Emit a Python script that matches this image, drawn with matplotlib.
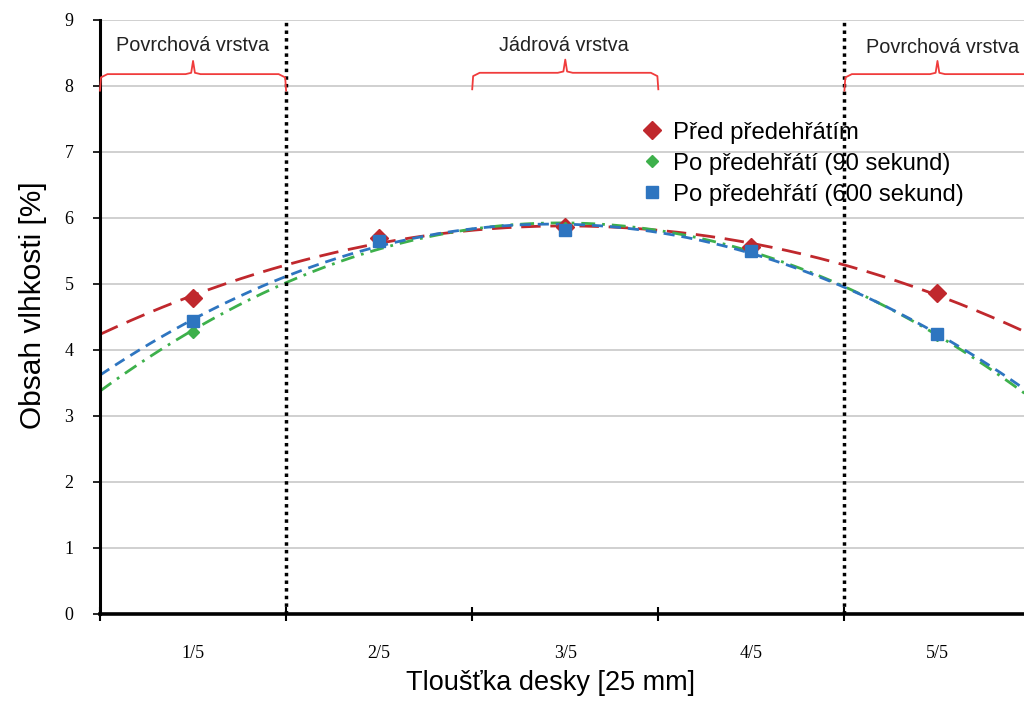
import numpy as np
import matplotlib
matplotlib.use("Agg")
import matplotlib.pyplot as plt

categories = ["1/5", "2/5", "3/5", "4/5", "5/5"]
pred = [4.79, 5.70, 5.86, 5.56, 4.86]
po90 = [4.27, 5.62, 5.85, 5.50, 4.23]
po600 = [4.44, 5.65, 5.82, 5.50, 4.24]
series_names = ["Před předehřátím", "Po předehřátí (90 sekund)", "Po předehřátí (600 sekund)"]
layer_labels = ["Povrchová vrstva", "Jádrová vrstva", "Povrchová vrstva"]

x = np.arange(1, len(categories) + 1)

fig = plt.figure(figsize=(10.24, 7.01), dpi=100)
ax = fig.add_axes([100/1024, 1 - 614/701, 1 - 100/1024 + 0.01, (614 - 20)/701])
xmin, xmax = 0.5, 5.52
ax.set_xlim(xmin, xmax)
ax.set_ylim(0, 9)

# grid
for yv in range(1, 10):
    ax.axhline(yv, color="#c8c8c8", lw=1.2, zorder=0)

# polynomial trendlines
xs = np.linspace(xmin, xmax, 300)
red_c, green_c, blue_c = "#C0282D", "#3DB04B", "#2E75C0"
for vals, col, deg, ls, lw in [
    (pred, red_c, 2, (0, (7, 3.5)), 2.0),
    (po90, green_c, 2, (0, (5, 2.5, 1, 2.5)), 2.0),
    (po600, blue_c, 2, (0, (4, 2.5)), 2.0),
]:
    p = np.polyfit(x, vals, deg)
    ax.plot(xs, np.polyval(p, xs), color=col, ls=ls, lw=lw, zorder=2)

# markers
h1, = ax.plot(x, pred, "D", color=red_c, ms=9, ls="none", zorder=4)
h2, = ax.plot(x, po90, "D", color=green_c, ms=6, ls="none", zorder=4)
h3, = ax.plot(x, po600, "s", color=blue_c, ms=9, ls="none", zorder=5)

# vertical separators
for xv in (1.5, 4.5):
    ax.axvline(xv, color="black", ls=(0, (1, 1.2)), lw=2.5, zorder=3)

# braces
def brace(x0, x1, xc, yh, yend, ytip, ax):
    d = 0.04
    xs_ = [x0, x0 + 0.005, x0 + d, xc - d, xc - 0.01, xc, xc + 0.01, xc + d, x1 - d, x1 - 0.005, x1]
    ys_ = [yend, yh - 0.05, yh, yh, yh + 0.02, ytip, yh + 0.02, yh, yh, yh - 0.05, yend]
    ax.plot(xs_, ys_, color="#F03C3C", lw=1.3, zorder=3, clip_on=False)

brace(0.5, 1.5, 1.0, 8.18, 7.93, 8.38, ax)
brace(2.5, 3.5, 3.0, 8.20, 7.95, 8.40, ax)
brace(4.5, 5.62, 5.0, 8.18, 7.93, 8.38, ax)

lbl_font = dict(family=["Liberation Sans", "DejaVu Sans"], fontsize=14.3, color="#222222")
ax.text(1.0, 8.62, layer_labels[0], ha="center", va="center", **lbl_font)
ax.text(2.99, 8.62, layer_labels[1], ha="center", va="center", **lbl_font)
ax.text(5.03, 8.58, layer_labels[2], ha="center", va="center", **lbl_font)

# axes styling
for s in ("top", "right"):
    ax.spines[s].set_visible(False)
ax.spines["left"].set_linewidth(2.2)
ax.spines["bottom"].set_linewidth(2.6)

ax.set_yticks(range(0, 10))
ax.set_yticklabels([str(v) for v in range(0, 10)], family=["Liberation Serif"], fontsize=13)
ax.tick_params(axis="y", direction="out", length=5, width=1.2, pad=14)

ax.set_xticks(x)
ax.set_xticklabels(categories, family=["Liberation Serif"], fontsize=13)
ax.tick_params(axis="x", which="major", length=0, pad=22)
ax.set_xticks(np.arange(0.5, 5.6, 1.0), minor=True)
ax.tick_params(axis="x", which="minor", direction="inout", length=10, width=1.5)

ax.set_ylabel("Obsah vlhkosti [%]", family=["Liberation Sans"], fontsize=21.5)
ax.yaxis.set_label_coords(-0.057, 0.52)
ax.set_xlabel("Tloušťka desky [25 mm]", family=["Liberation Sans"], fontsize=19.5)
ax.xaxis.set_label_coords(0.482, -0.095)

leg = ax.legend([h1, h2, h3], series_names, loc="center left", bbox_to_anchor=(0.581, 0.758),
                frameon=False, prop={"family": "Liberation Sans", "size": 17.2},
                handlelength=0.8, handletextpad=0.45, labelspacing=0.38, borderaxespad=0,
                borderpad=0)
fig.savefig("out.png", dpi=100)
